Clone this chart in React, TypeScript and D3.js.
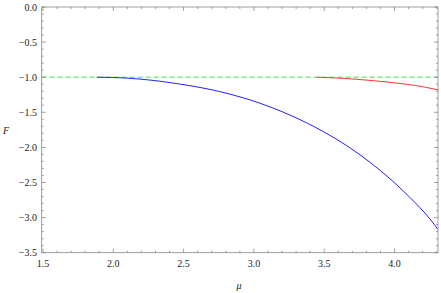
import React from "react";
import * as d3 from "d3";

const muBlue = [1.882, 2.0, 2.19, 2.474, 2.759, 3.043, 3.328, 3.541, 3.683, 3.826, 3.968, 4.11, 4.252, 4.309];
const fBlue = [-1.0, -1.004, -1.027, -1.098, -1.206, -1.371, -1.605, -1.829, -2.006, -2.213, -2.447, -2.715, -3.02, -3.17];
const muRed = [3.447, 3.6, 3.731, 3.968, 4.2, 4.309];
const fRed = [-1.0, -1.012, -1.03, -1.073, -1.135, -1.18];
const refLine = -1.0;
const xTicks = [1.5, 2.0, 2.5, 3.0, 3.5, 4.0];
const yTicks = [0.0, -0.5, -1.0, -1.5, -2.0, -2.5, -3.0, -3.5];

const W = 441, H = 293;
const L = 41.7, R = 438, T = 7, B = 252.7;

export default function App() {
  const x = d3.scaleLinear().domain([1.491, 4.309]).range([L, R]);
  const y = d3.scaleLinear().domain([-3.5, 0]).range([B, T]);
  const line = d3
    .line<[number, number]>()
    .x((d) => x(d[0]))
    .y((d) => y(d[1]))
    .curve(d3.curveMonotoneX);
  const blue: [number, number][] = muBlue.map((m, i) => [m, fBlue[i]]);
  const red: [number, number][] = muRed.map((m, i) => [m, fRed[i]]);
  const fmt = (v: number) => (v < 0 ? "\u2212" + Math.abs(v).toFixed(1) : v.toFixed(1));

  const xMinor: number[] = [];
  for (let v = 1.5; v <= 4.3001; v += 0.1) xMinor.push(Math.round(v * 10) / 10);
  const yMinor: number[] = [];
  for (let v = -3.5; v <= 0.0001; v += 0.1) yMinor.push(Math.round(v * 10) / 10);
  const isMajor = (v: number) => Math.abs(v * 2 - Math.round(v * 2)) < 1e-6;
  const frame = "#888";

  return (
    <svg width={W} height={H} style={{ position: "absolute", left: 0, top: 0 }} fontFamily="'Liberation Serif', 'Times New Roman', serif">
      <rect x={0} y={0} width={W} height={H} fill="#fff" />
      <defs>
        <clipPath id="clip">
          <rect x={L} y={T} width={R - L} height={B - T} />
        </clipPath>
      </defs>
      <g clipPath="url(#clip)" fill="none" strokeWidth={1}>
        <line x1={L} x2={R} y1={y(refLine)} y2={y(refLine)} stroke="#44dd44" strokeDasharray="5,3" />
        <path d={line(blue) || ""} stroke="#2222ff" />
        <path d={line(red) || ""} stroke="#ff3333" />
      </g>
      <g stroke={frame} strokeWidth={0.8}>
        {xMinor.map((v) => {
          const len = isMajor(v) ? 4 : 2;
          const px = x(v);
          return (
            <g key={"x" + v}>
              <line x1={px} x2={px} y1={B} y2={B - len} />
              <line x1={px} x2={px} y1={T} y2={T + len} />
            </g>
          );
        })}
        {yMinor.map((v) => {
          const len = isMajor(v) ? 4 : 2;
          const py = y(v);
          return (
            <g key={"y" + v}>
              <line x1={L} x2={L + len} y1={py} y2={py} />
              <line x1={R} x2={R - len} y1={py} y2={py} />
            </g>
          );
        })}
        <rect x={L} y={T} width={R - L} height={B - T} fill="none" />
      </g>
      <g fontSize={10} fill="#222">
        {xTicks.map((v) => (
          <text key={"xl" + v} x={x(v)} y={266.5} textAnchor="middle">
            {fmt(v)}
          </text>
        ))}
        {yTicks.map((v) => (
          <text key={"yl" + v} x={37} y={y(v) + 3.5} textAnchor="end">
            {fmt(v)}
          </text>
        ))}
        <text x={6} y={133.5} textAnchor="middle" fontStyle="italic">F</text>
        <text x={239} y={289} textAnchor="middle" fontStyle="italic">μ</text>
      </g>
    </svg>
  );
}
